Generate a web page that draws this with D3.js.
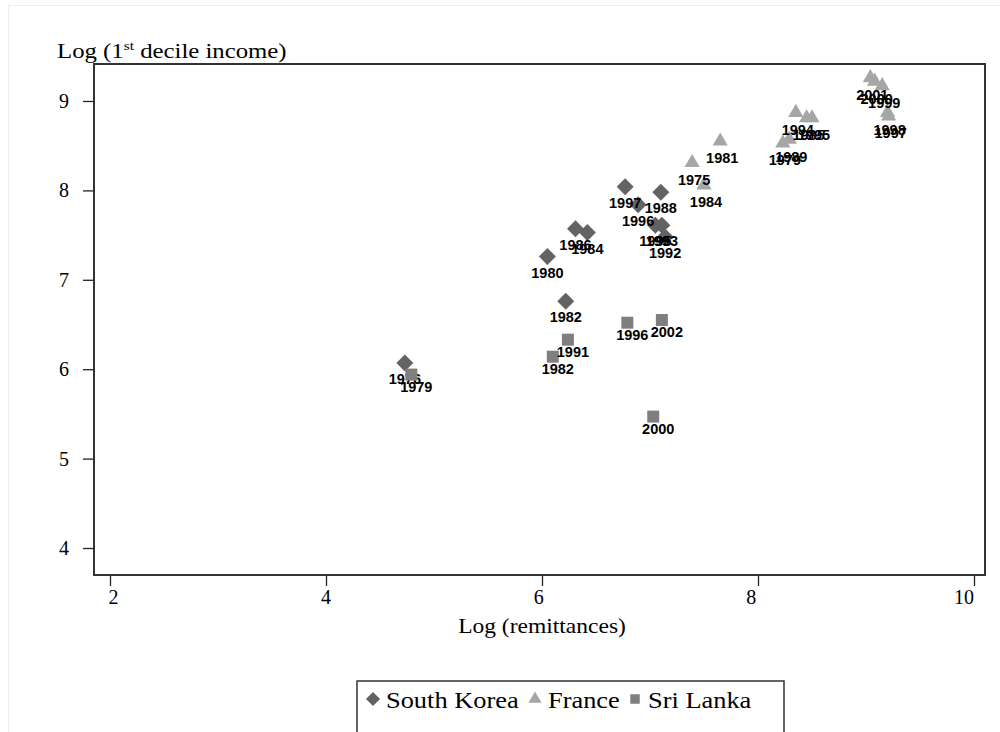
<!DOCTYPE html>
<html>
<head>
  <meta charset="utf-8">
  <title>Remittances and 1st decile income</title>
  <script src="https://d3js.org/d3.v7.min.js"></script>
  <style>
    body {
      margin: 0;
      padding: 0;
      background-color: white;
    }
    .tick text {
      font-family: "Liberation Serif", "Times New Roman", serif;
      font-size: 20px;
      fill: black;
    }
    .point-label {
      font-family: "Liberation Sans", Arial, sans-serif;
      font-size: 14.5px;
      font-weight: bold;
      fill: black;
    }
    .title {
      font-family: "Liberation Serif", "Times New Roman", serif;
      fill: black;
    }
  </style>
</head>
<body>

  <div id="chart"></div>

  <script>
    // Values
    var koreaYears = ["1976", "1980", "1982", "1986", "1984", "1997", "1988", "1996", "1995", "1993", "1992"];
    var koreaX = [4.73, 6.05, 6.22, 6.31, 6.42, 6.77, 7.10, 6.89, 7.05, 7.11, 7.14];
    var koreaY = [6.07, 7.26, 6.76, 7.57, 7.53, 8.04, 7.98, 7.84, 7.61, 7.61, 7.48];

    var franceYears = ["1975", "1981", "1984", "1994", "1985", "1995", "1979", "1989", "2001", "2000", "1999", "1998", "1997"];
    var franceX = [7.39, 7.65, 7.50, 8.35, 8.45, 8.50, 8.23, 8.29, 9.04, 9.08, 9.15, 9.20, 9.21];
    var franceY = [8.31, 8.55, 8.06, 8.87, 8.81, 8.81, 8.53, 8.57, 9.26, 9.22, 9.17, 8.87, 8.83];

    var sriLankaYears = ["1979", "1982", "1991", "1996", "2002", "2000"];
    var sriLankaX = [4.79, 6.10, 6.24, 6.79, 7.11, 7.03];
    var sriLankaY = [5.94, 6.14, 6.33, 6.52, 6.55, 5.47];

    var xTicks = [2, 4, 6, 8, 10];
    var yTicks = [4, 5, 6, 7, 8, 9];

    var width = 1000,
        height = 732;

    // plot frame (pixels)
    var frameLeft = 94, frameRight = 985, frameTop = 64, frameBottom = 575;

    var svg = d3.select("#chart")
      .append("svg")
        .attr("width", width)
        .attr("height", height);

    // faint outer border
    svg.append("rect")
        .attr("x", 8.5).attr("y", 5.5)
        .attr("width", width).attr("height", height)
        .attr("fill", "none")
        .attr("stroke", "#eeeeee");

    var x = d3.scaleLinear()
        .domain([2, 10])
        .range([110, 974]);

    var y = d3.scaleLinear()
        .domain([4, 9])
        .range([548, 101]);

    // axes
    var xAxis = svg.append("g")
        .attr("transform", "translate(0," + frameBottom + ")")
        .call(d3.axisBottom(x).tickValues(xTicks).tickSize(11).tickPadding(4).tickFormat(d3.format("d")));
    xAxis.select(".domain").remove();
    xAxis.selectAll("line").attr("stroke", "#222").attr("stroke-width", 1.3);
    // labels sit a little left of their ticks in the original
    xAxis.selectAll(".tick text").attr("dx", function(d) { return 3 - (d - 2) * 1.7; });

    var yAxis = svg.append("g")
        .attr("transform", "translate(" + frameLeft + ",0)")
        .call(d3.axisLeft(y).tickValues(yTicks).tickSize(11).tickPadding(14).tickFormat(d3.format("d")));
    yAxis.select(".domain").remove();
    yAxis.selectAll("line").attr("stroke", "#222").attr("stroke-width", 1.3);

    // frame
    svg.append("rect")
        .attr("x", frameLeft).attr("y", frameTop)
        .attr("width", frameRight - frameLeft).attr("height", frameBottom - frameTop)
        .attr("fill", "none")
        .attr("stroke", "#333")
        .attr("stroke-width", 2);

    // series
    var series = [
      {name: "South Korea", years: koreaYears, xs: koreaX, ys: koreaY, color: "#636363",
       symbol: d3.symbolSquare, size: 144, rotate: 45, dx: 0, dy: 16},
      {name: "France", years: franceYears, xs: franceX, ys: franceY, color: "#a6a6a6",
       symbol: d3.symbolTriangle, size: 100, rotate: 0, dx: 2, dy: 17},
      {name: "Sri Lanka", years: sriLankaYears, xs: sriLankaX, ys: sriLankaY, color: "#7f7f7f",
       symbol: d3.symbolSquare, size: 144, rotate: 0, dx: 5, dy: 12}
    ];

    series.forEach(function(s) {
      var pts = s.years.map(function(yr, i) { return {year: yr, x: s.xs[i], y: s.ys[i]}; });

      svg.append("g").selectAll("path")
          .data(pts)
        .enter().append("path")
          .attr("d", d3.symbol().type(s.symbol).size(s.size))
          .attr("transform", function(d) {
            return "translate(" + x(d.x) + "," + y(d.y) + ") rotate(" + s.rotate + ")";
          })
          .attr("fill", s.color);

      svg.append("g").selectAll("text")
          .data(pts)
        .enter().append("text")
          .attr("class", "point-label")
          .attr("x", function(d) { return x(d.x) + s.dx; })
          .attr("y", function(d) { return y(d.y) + s.dy; })
          .attr("dy", "0.36em")
          .style("text-anchor", "middle")
          .text(function(d) { return d.year; });
    });

    // axis titles
    var yTitle = svg.append("text")
        .attr("class", "title")
        .attr("transform", "translate(57,58) scale(1.18,1)")
        .style("font-size", "21px");
    yTitle.append("tspan").text("Log (1");
    yTitle.append("tspan").attr("dy", "-8").style("font-size", "13px").text("st");
    yTitle.append("tspan").attr("dy", "8").text(" decile income)");

    svg.append("text")
        .attr("class", "title")
        .attr("transform", "translate(542,633) scale(1.12,1)")
        .style("font-size", "21px")
        .style("text-anchor", "middle")
        .text("Log (remittances)");

    // legend
    svg.append("rect")
        .attr("x", 357).attr("y", 681)
        .attr("width", 427).attr("height", 70)
        .attr("fill", "white")
        .attr("stroke", "#333")
        .attr("stroke-width", 1.5);

    var legendX = [373, 535, 635];
    var legendSize = [100, 75, 90];
    series.forEach(function(s, i) {
      svg.append("path")
          .attr("d", d3.symbol().type(s.symbol).size(legendSize[i]))
          .attr("transform", "translate(" + legendX[i] + ",699) rotate(" + s.rotate + ")")
          .attr("fill", s.color);
      svg.append("text")
          .attr("class", "title")
          .attr("transform", "translate(" + (legendX[i] + 13) + ",708) scale(1.1,1)")
          .style("font-size", "24px")
          .text(s.name);
    });
  </script>

</body>
</html>
